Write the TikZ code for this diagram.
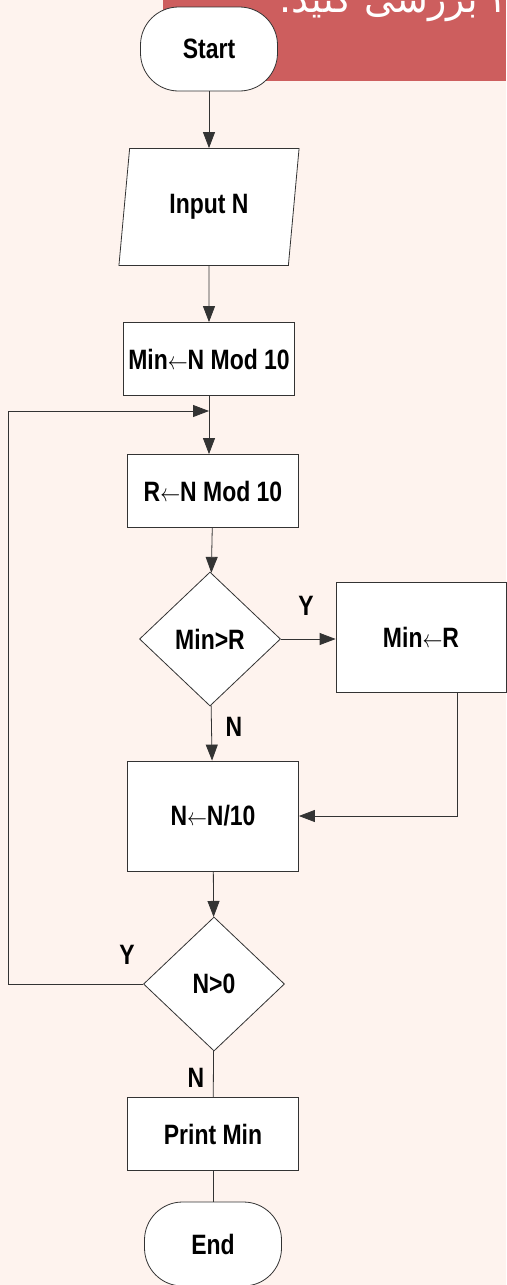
\documentclass[tikz,border=0pt]{standalone}
\usepackage{fontspec}
\setmainfont[FakeStretch=0.82]{Liberation Sans}
\newfontfamily\fafont[Script=Arabic]{DejaVu Sans}
\TeXXeTstate=1
\usetikzlibrary{arrows.meta,shapes.geometric}
\definecolor{bgpeach}{HTML}{FEF3EE}
\definecolor{bannerred}{HTML}{CD5E5E}
\definecolor{linegray}{HTML}{333333}
\newcommand{\assign}{\scalebox{0.8}[1]{$\leftarrow$}}

\begin{document}
\begin{tikzpicture}[x=1pt, y=-1pt,
  font=\fontsize{28}{32}\selectfont\bfseries,
  box/.style={draw=linegray, fill=white, line width=0.8pt, inner sep=0pt, minimum width=171pt, minimum height=73pt, align=center},
  term/.style={box, rounded corners=38pt, minimum width=137pt, minimum height=84pt},
  io/.style={draw=linegray, fill=white, line width=0.8pt, trapezium, trapezium left angle=78, trapezium right angle=102, trapezium stretches=true, minimum width=181pt, minimum height=117pt, inner sep=0pt},
  dec/.style={draw=linegray, fill=white, line width=0.8pt, diamond, inner sep=0pt, minimum width=141pt, minimum height=134pt},
  arr/.style={-{Triangle[length=16pt,width=12pt]}, line width=0.8pt, draw=linegray},
  lin/.style={line width=0.8pt, draw=linegray},
  lbl/.style={inner sep=0pt}]
\useasboundingbox (0,0) rectangle (506,1285);
% page and banner
\fill[bgpeach] (0,0) rectangle (506,1285);
\fill[bannerred] (163,0) rectangle (506,81);
\node[anchor=base east, inner sep=0pt, text=white, font=\fafont\fontsize{38}{42}\selectfont] (ttl) at (511,12) {\beginR ۴ بررسی کنید.\endR};
% main chain
\node[term] (st) at (209,49) {Start};
\node[io] (in) at (209,207) {Input N};
\node[box] (mn) at (209,359) {Min\assign N Mod 10};
\node[box] (r) at (213,491) {R\assign N Mod 10};
\node[dec] (cmp) at (210,639) {Min>R};
\node[box, minimum width=170pt, minimum height=110pt] (mr) at (421,637) {Min\assign R};
\node[box, minimum height=110pt] (dv) at (213,816) {N\assign N/10};
\node[dec] (chk) at (214,984) {N>0};
\node[box] (pr) at (213,1134) {Print Min};
\node[term] (en) at (213,1244) {End};
\coordinate (join) at (209,411);
\coordinate (edge) at (8,984);
% branch labels
\node[lbl] (y1) at (306,606) {Y};
\node[lbl] (n1) at (234,727) {N};
\node[lbl] (y2) at (127,955) {Y};
\node[lbl] (n2) at (196,1078) {N};
% connectors
\draw[arr] (st) -- (in);
\draw[arr] (in) -- (mn);
\draw[arr] (mn.south) -- (mn.south |- r.north);
\draw[arr] (r) -- (cmp);
\draw[arr] (cmp.east) -- (mr.west |- cmp.east);
\draw[arr] (cmp) -- (dv);
\draw[arr] ([xshift=36pt]mr.south) |- (dv.east);
\draw[arr] (dv) -- (chk);
\draw[arr] (chk.west) -- (chk.west -| edge) |- (join);
\draw[lin] (chk) -- (pr);
\draw[lin] (pr) -- (en);
\end{tikzpicture}
\end{document}
